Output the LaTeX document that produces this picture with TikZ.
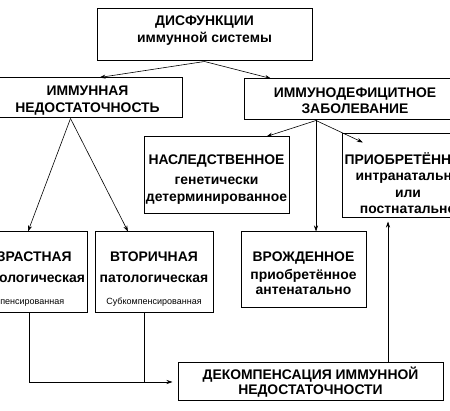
\documentclass[tikz,border=0pt]{standalone}
\usepackage{fontspec}
\setmainfont{Liberation Sans}
\usetikzlibrary{arrows.meta}
\newcommand{\topgap}[1]{\rule{0pt}{#1}}
\begin{document}
\begin{tikzpicture}[x=1pt, y=-1pt,
		box/.style={draw, line width=1pt, inner sep=0pt, align=center, font=\fontsize{13.9}{16.5}\selectfont\bfseries},
		arr/.style={line width=0.6pt, -{Stealth[length=6pt, width=4pt]}}]
			\useasboundingbox (0, 0) rectangle (450, 411);
			\clip (0, 0) rectangle (450, 411);
			\node[box, minimum width=215pt, minimum height=52pt, text depth=12pt] (dysf) at (204.5, 35) {ДИСФУНКЦИИ\\[0.5pt]иммунной системы};
			\node[box, minimum width=189pt, minimum height=40pt] (insuf) at (87.5, 98) {\topgap{15pt}ИММУННАЯ\\НЕДОСТАТОЧНОСТЬ};
			\node[box, minimum width=222pt, minimum height=41pt] (disease) at (355, 99.5) {\topgap{12pt}ИММУНОДЕФИЦИТНОЕ\\ЗАБОЛЕВАНИЕ};
			\node[box, minimum width=145pt, minimum height=77pt] (hered) at (216.5, 175.5) {\topgap{17pt}НАСЛЕДСТВЕННОЕ\\[4pt]генетически\\детерминированное};
			\node[box, minimum width=132pt, minimum height=84pt] (acq) at (408, 176) {\topgap{26pt}ПРИОБРЕТЁННОЕ\\интранатально\\или\\постнатально};
			\node[box, minimum width=126pt, minimum height=81pt] (age) at (24, 272.5) {\topgap{22pt}ВОЗРАСТНАЯ\\[5pt]физиологическая\\[5pt]{\fontsize{9}{11}\selectfont\mdseries Компенсированная}};
			\node[box, minimum width=118pt, minimum height=81pt] (second) at (154, 272.5) {\topgap{22pt}ВТОРИЧНАЯ\\[5pt]патологическая\\[5pt]{\fontsize{9}{11}\selectfont\mdseries Субкомпенсированная}};
			\node[box, minimum width=125pt, minimum height=76pt] (congen) at (303.5, 270) {\topgap{16pt}ВРОЖДЕННОЕ\\[2pt]приобретённое\\[-1.5pt]антенатально};
			\node[box, minimum width=265pt, minimum height=38pt] (decomp) at (310.5, 382) {ДЕКОМПЕНСАЦИЯ ИММУННОЙ\\[-1pt]НЕДОСТАТОЧНОСТИ};
			\coordinate (ifork) at ([xshift=-17pt]insuf.south);
			\coordinate (dfork) at ([xshift=-39pt]disease.south);
			\draw[arr] (dysf.south) -- ([xshift=12pt]insuf.north);
			\draw[arr] (dysf.south) -- ([xshift=-84pt]disease.north);
			\draw[arr] (dfork) -- ([xshift=50pt]hered.north);
			\draw[arr] (dfork) -- ([xshift=-45pt, yshift=-9pt]acq.north);
			\draw[arr] (dfork) -- (dfork |- congen.north);
			\draw[arr] (ifork) -- ([xshift=4pt]age.north);
			\draw[arr] (ifork) -- ([xshift=-26pt]second.north);
			\draw[arr, shorten >=5pt] ([xshift=5pt]age.south) |- (decomp.west);
			\draw[line width=0.6pt] ([xshift=-10pt]second.south) -- ([xshift=-10pt]second.south |- decomp.west);
			\draw[arr, shorten >=3pt] ([xshift=-20pt]acq.south |- decomp.north) -- ([xshift=-20pt]acq.south);
		\end{tikzpicture}
\end{document}
